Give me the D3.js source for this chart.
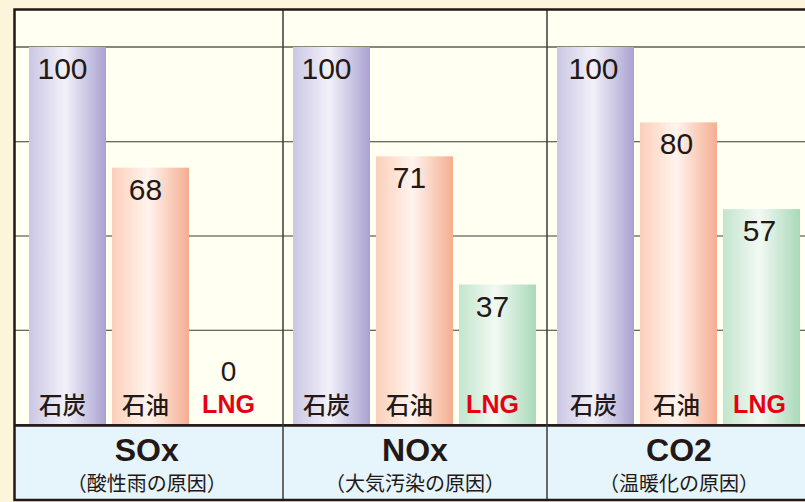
<!DOCTYPE html>
<html><head><meta charset="utf-8">
<script src="https://cdn.jsdelivr.net/npm/d3@7"></script>
<style>html,body{margin:0;padding:0;background:#fdf4dc;}svg{display:block;}</style>
</head><body>
<svg id="chart" width="805" height="502"></svg>
<script>
const groups = ["SOx", "NOx", "CO2"];
const subtitles = ["（酸性雨の原因）", "（大気汚染の原因）", "（温暖化の原因）"];
const fuels = ["石炭", "石油", "LNG"];
const soxValues = [100, 68, 0];
const noxValues = [100, 71, 37];
const co2Values = [100, 80, 57];
const gridTicks = [0, 25, 50, 75];
const seriesByGroup = [soxValues, noxValues, co2Values];

const svg = d3.select("#chart");
const W = 805, H = 502;
const frameL = 14.5, frameT = 9.5, frameR = 830, frameB = 500;
const plotTop = 47, plotBottom = 424;

const defs = svg.append("defs");
const gradSpecs = [
  {id: "g0", stops: ["#cac6e4", "#f2f1f9", "#a9a1d0"]},
  {id: "g1", stops: ["#fbcfba", "#fff4ee", "#f4ae90"]},
  {id: "g2", stops: ["#c2e5cd", "#f2f9f3", "#a9d9b9"]}
];
gradSpecs.forEach(g => {
  const lg = defs.append("linearGradient").attr("id", g.id).attr("x1", "0").attr("x2", "1").attr("y1", "0").attr("y2", "0");
  lg.append("stop").attr("offset", "0").attr("stop-color", g.stops[0]);
  lg.append("stop").attr("offset", "0.47").attr("stop-color", g.stops[1]);
  lg.append("stop").attr("offset", "1").attr("stop-color", g.stops[2]);
});

svg.append("rect").attr("width", W).attr("height", H).attr("fill", "#fdf4dc");
svg.append("rect").attr("x", frameL).attr("y", frameT).attr("width", frameR - frameL).attr("height", frameB - frameT).attr("fill", "#fffff2");

const y = d3.scaleLinear().domain([0, 100]).range([plotBottom, plotTop]);
const gx = d3.scaleBand().domain(groups).range([19, 811]).padding(0);
const bx = d3.scaleBand().domain(fuels).range([10, 253]).paddingInner(6 / 83).paddingOuter(0);

const gridAxis = d3.axisLeft(y).tickValues(gridTicks).tickSize(-(frameR - frameL)).tickFormat("");
const gg = svg.append("g").attr("transform", `translate(${frameL},0)`).call(gridAxis);
gg.select(".domain").remove();
gg.selectAll(".tick line").attr("stroke", "#3d3a36").attr("stroke-width", 1);

svg.append("line").attr("x1", frameL).attr("x2", frameR).attr("y1", y(100)).attr("y2", y(100))
  .attr("stroke", "#8c8674").attr("stroke-width", 2);

const labelNudge = [-5, -5, -2];

groups.forEach((grp, gi) => {
  const g = svg.append("g").attr("transform", `translate(${gx(grp)},0)`);
  const vals = seriesByGroup[gi];
  fuels.forEach((f, fi) => {
    const v = vals[fi];
    if (v > 0) {
      g.append("rect").attr("x", bx(f)).attr("y", y(v)).attr("width", bx.bandwidth()).attr("height", y(0) - y(v))
        .attr("fill", `url(#g${fi})`);
    }
    const cx = bx(f) + bx.bandwidth() / 2 + labelNudge[gi];
    g.append("text").attr("x", cx).attr("y", v > 0 ? y(v) + 32 : 381)
      .attr("text-anchor", "middle").attr("font-family", "Liberation Sans, Arial, sans-serif")
      .attr("font-size", v > 0 ? 30 : 28).attr("fill", "#231815").text(v);
    if (f === "LNG") {
      g.append("text").attr("x", cx).attr("y", 413).attr("text-anchor", "middle")
        .attr("font-family", "Liberation Sans, Arial, sans-serif").attr("font-weight", "bold")
        .attr("font-size", 25).attr("fill", "#e60012").text(f);
    } else {
      g.append("text").attr("x", cx).attr("y", 414).attr("text-anchor", "middle")
        .attr("font-family", "'Noto Sans CJK JP', sans-serif").attr("font-weight", 500)
        .attr("font-size", 23.5).attr("fill", "#231815").text(f);
    }
  });
});

svg.append("rect").attr("x", frameL).attr("y", plotBottom + 1).attr("width", frameR - frameL).attr("height", frameB - plotBottom - 1)
  .attr("fill", "#e6f4fc");
svg.append("line").attr("x1", frameL).attr("x2", frameR).attr("y1", plotBottom + 1.5).attr("y2", plotBottom + 1.5)
  .attr("stroke", "#231815").attr("stroke-width", 2.5);

groups.forEach((grp, gi) => {
  const left = gi === 0 ? frameL : gx(grp);
  const cx = (left + gx(grp) + gx.bandwidth()) / 2 - (gi === 0 ? 2 : 0);
  svg.append("text").attr("x", cx).attr("y", 461).attr("text-anchor", "middle")
    .attr("font-family", "Liberation Sans, Arial, sans-serif").attr("font-weight", "bold")
    .attr("font-size", 32).attr("fill", "#231815").text(grp);
  svg.append("text").attr("x", cx).attr("y", 491).attr("text-anchor", "middle")
    .attr("font-family", "'Noto Sans CJK JP', sans-serif")
    .attr("font-size", 20).attr("fill", "#231815")
    .text(subtitles[gi]);
});

groups.slice(1).forEach(grp => {
  svg.append("line").attr("x1", gx(grp)).attr("x2", gx(grp)).attr("y1", frameT).attr("y2", frameB)
    .attr("stroke", "#3d3a36").attr("stroke-width", 1.5);
});

svg.append("rect").attr("x", frameL).attr("y", frameT).attr("width", frameR - frameL).attr("height", frameB - frameT)
  .attr("fill", "none").attr("stroke", "#231815").attr("stroke-width", 2.5);
</script>
</body></html>
